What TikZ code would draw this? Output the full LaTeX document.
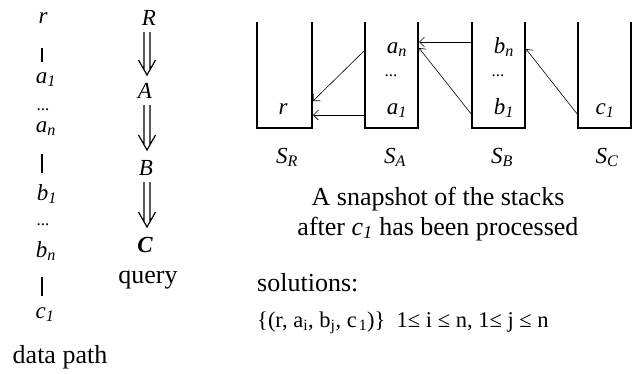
\documentclass[tikz,border=0pt]{standalone}
\usepackage{fontspec}
\setmainfont{Liberation Serif}
\usetikzlibrary{arrows.meta,calc}
\begin{document}
\begin{tikzpicture}[x=1pt,y=-1pt,
 lab/.style={font=\fontsize{23}{26}\selectfont\itshape, inner sep=0pt, anchor=base},
 dots/.style={font=\fontsize{17}{20}\selectfont, inner sep=0pt, anchor=base},
 txt/.style={font=\fontsize{26}{30}\selectfont, inner sep=0pt, anchor=base},
 frm/.style={font=\fontsize{22.5}{26}\selectfont, inner sep=0pt, anchor=base west},
 wall/.style={line width=2pt},
 seg/.style={line width=2pt},
 ptr/.style={line width=0.6pt, -{Straight Barb[length=5pt,width=10pt]}},
 dbl/.style={line width=1.2pt, to path={
   ($(\tikztostart)+(-3,0)$) -- ($(\tikztotarget)+(-3,-5.5)$)
   ($(\tikztostart)+(3,0)$) -- ($(\tikztotarget)+(3,-5.5)$)
   ($(\tikztotarget)+(-8.5,-15)$) -- (\tikztotarget) -- ($(\tikztotarget)+(8.5,-15)$)}},
]
\useasboundingbox (0,0) rectangle (632,373);

% data path
\node[lab] (r) at (43,23) {r};
\node[lab] (a1) at (46,83) {a\textsubscript{1}};
\node[dots] (d1) at (43,110) {...};
\node[lab] (an) at (46,132) {a\textsubscript{n}};
\node[lab] (b1) at (47,200) {b\textsubscript{1}};
\node[dots] (d2) at (43,225) {...};
\node[lab] (bn) at (46,257) {b\textsubscript{n}};
\node[lab] (c1) at (45,318) {c\textsubscript{1}};
\node[txt] (dp) at (60,363) {data path};
\coordinate (l1a) at (42,48); \coordinate (l1b) at (42,62);
\coordinate (l2a) at (42,154); \coordinate (l2b) at (42,173);
\coordinate (l3a) at (42,277); \coordinate (l3b) at (42,296);
\draw[seg] (l1a) -- (l1b);
\draw[seg] (l2a) -- (l2b);
\draw[seg] (l3a) -- (l3b);

% query
\node[lab] (qR) at (149,25) {R};
\node[lab] (qA) at (145,98) {A};
\node[lab] (qB) at (146,175) {B};
\node[lab] (qC) at (145,252) {\bfseries C};
\node[txt] (qq) at (148,283) {query};
\coordinate (q1s) at (147,32); \coordinate (q1e) at (147,75);
\coordinate (q2s) at (147,105); \coordinate (q2e) at (147,150);
\coordinate (q3s) at (147,182); \coordinate (q3e) at (147,227);
\draw[dbl] (q1s) to (q1e);
\draw[dbl] (q2s) to (q2e);
\draw[dbl] (q3s) to (q3e);

% stacks
\draw[wall] (257,22) -- (257,128) -- (312,128) -- (312,22);
\draw[wall] (365,22) -- (365,128) -- (418,128) -- (418,22);
\draw[wall] (472,22) -- (472,128) -- (525,128) -- (525,22);
\draw[wall] (578,22) -- (578,128) -- (631,128) -- (631,22);

\node[lab] (sr) at (283,114) {r};
\node[lab] (san) at (397,53) {a\textsubscript{n}};
\node[dots] (sad) at (391,76) {...};
\node[lab] (sa1) at (397,114) {a\textsubscript{1}};
\node[lab] (sbn) at (504,53) {b\textsubscript{n}};
\node[dots] (sbd) at (498,76) {...};
\node[lab] (sb1) at (504,114) {b\textsubscript{1}};
\node[lab] (sc1) at (605,114) {c\textsubscript{1}};

\node[lab] (SR) at (287,163) {S\textsubscript{R}};
\node[lab] (SA) at (395,163) {S\textsubscript{A}};
\node[lab] (SB) at (502,163) {S\textsubscript{B}};
\node[lab] (SC) at (607,163) {S\textsubscript{C}};

% pointers
\coordinate (pAhi) at (365,50); \coordinate (pRmid) at (313,101);
\coordinate (pAlo) at (365,115); \coordinate (pRlo) at (313,115);
\coordinate (pBhi) at (472,42); \coordinate (pAhiR) at (419,42);
\coordinate (pBlo) at (472,115); \coordinate (pAmidR) at (419,48);
\coordinate (pClo) at (578,115); \coordinate (pBmidR) at (526,49);
\draw[ptr] (pAhi) -- (pRmid);
\draw[ptr] (pAlo) -- (pRlo);
\draw[ptr] (pBhi) -- (pAhiR);
\draw[ptr] (pBlo) -- (pAmidR);
\draw[ptr] (pClo) -- (pBmidR);

% captions
\node[txt] (cap1) at (438,205) {A snapshot of the stacks};
\node[txt] (cap2) at (438,235) {after \textit{c\textsubscript{1}} has been processed};
\node[txt, anchor=base west] (sol) at (257,291) {solutions:};
\node[frm] (form) at (257,327) {\{(r, a\textsubscript{i}, b\textsubscript{j}, c\kern2pt\textsubscript{1})\}\ \ 1≤ i ≤ n, 1≤ j ≤ n};
\end{tikzpicture}
\end{document}
